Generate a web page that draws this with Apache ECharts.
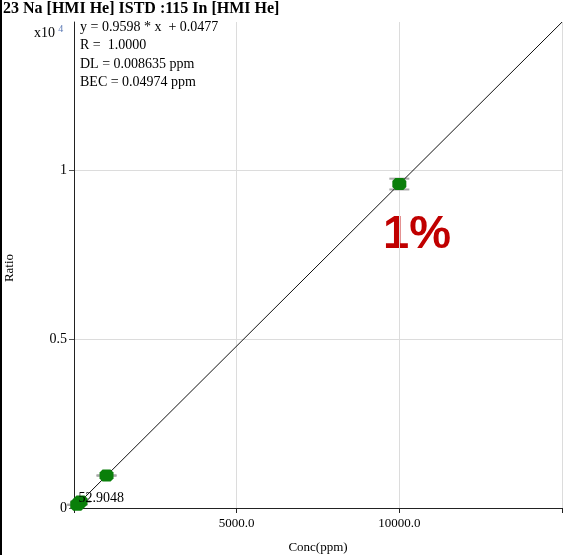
<!DOCTYPE html>
<html>
<head>
<meta charset="utf-8">
<script src="https://cdn.jsdelivr.net/npm/echarts@6/dist/echarts.min.js"></script>
<style>
  html, body { margin: 0; padding: 0; background: #fff; }
  #chart { width: 576px; height: 555px; }
</style>
</head>
<body>
<div id="chart"></div>
<script>
// Calibration standards: concentration (ppm) and ratio (x10^4)
const concPpm = [100, 200, 1000, 10000];
const ratioE4 = [0.0096, 0.0192, 0.0962, 0.9598];
const ratioErr = [0.0006, 0.0006, 0.0008, 0.016];
const pointLabels = ['', '52.9048', '', ''];
const pointLabels2 = ['', '50.0048', '', ''];

// Fit coefficients (raw ratio vs ppm)
const slope = 0.9598;
const intercept = 0.0477;
const fitX = [0, 15000];

const xTicks = [0, 5000, 10000, 15000];
const yTicks = [0, 0.5, 1];

const statsLines = [
  'y = 0.9598 * x  + 0.0477',
  'R =  1.0000',
  'DL = 0.008635 ppm',
  'BEC = 0.04974 ppm'
];
const titleText = '23 Na [HMI He] ISTD :115 In [HMI He]';

const SERIF = '"Liberation Serif", "DejaVu Serif", serif';

const fitData = fitX.map(x => [x, (slope * x + intercept) / 1e4]);
const pts = concPpm.map((c, i) => [c, ratioE4[i], ratioErr[i]]);

const octagon = 'path://M3,0 L11,0 L14,3 L14,9 L11,12 L3,12 L0,9 L0,3 Z';

const chart = echarts.init(document.getElementById('chart'), null, { renderer: 'canvas' });

chart.setOption({
  animation: false,
  backgroundColor: '#ffffff',
  grid: { left: 74, top: 22, right: 14, bottom: 47, containLabel: false, outerBoundsMode: 'none' },
  xAxis: {
    type: 'value',
    min: 0, max: 15000, interval: 5000,
    name: 'Conc(ppm)', nameLocation: 'middle', nameGap: 33,
    nameTextStyle: { fontFamily: SERIF, fontSize: 13, color: '#000' },
    axisLine: { show: true, onZero: false, lineStyle: { color: '#222', width: 1 } },
    axisTick: { show: true, length: 5, lineStyle: { color: '#222' } },
    axisLabel: {
      fontFamily: SERIF, fontSize: 13, color: '#000', margin: 9,
      formatter: v => (v === 0 || v === 15000) ? '' : v.toFixed(1)
    },
    splitLine: { show: true, lineStyle: { color: ['rgba(0,0,0,0)', '#dcdcdc', '#dcdcdc', '#dcdcdc'], width: 1 } }
  },
  yAxis: {
    type: 'value',
    min: 0, max: 1.44, interval: 0.5,
    axisLine: { show: true, onZero: false, lineStyle: { color: '#222', width: 1 } },
    axisTick: { show: true, length: 5, lineStyle: { color: '#555' } },
    axisLabel: {
      fontFamily: SERIF, fontSize: 14, color: '#000', margin: 7,
      showMaxLabel: false,
      formatter: v => (yTicks.indexOf(v) >= 0 ? String(v) : '')
    },
    splitLine: { show: true, lineStyle: { color: ['rgba(0,0,0,0)', '#dcdcdc', '#dcdcdc', 'rgba(0,0,0,0)'], width: 1 } }
  },
  series: [
    {
      name: 'fit',
      type: 'line',
      data: fitData,
      symbol: 'none',
      lineStyle: { color: '#111', width: 1 },
      z: 3
    },
    {
      name: 'errors',
      type: 'custom',
      data: pts,
      z: 2,
      renderItem: (params, api) => {
        const x = api.value(0), y = api.value(1), e = api.value(2);
        const top = api.coord([x, y + e]);
        const bot = api.coord([x, y - e]);
        const hw = 10;
        const style = { stroke: '#a8a8a8', lineWidth: 2 };
        return {
          type: 'group',
          children: [
            { type: 'line', shape: { x1: top[0], y1: top[1], x2: bot[0], y2: bot[1] }, style },
            { type: 'line', shape: { x1: top[0] - hw, y1: top[1], x2: top[0] + hw, y2: top[1] }, style },
            { type: 'line', shape: { x1: bot[0] - hw, y1: bot[1], x2: bot[0] + hw, y2: bot[1] }, style }
          ]
        };
      }
    },
    {
      name: 'standards',
      type: 'scatter',
      data: pts.map((p, i) => ({ value: [p[0], p[1]], label: { show: !!pointLabels[i], formatter: pointLabels[i] } })),
      symbol: octagon,
      symbolSize: [14, 12],
      itemStyle: { color: '#0a7f0a', opacity: 1 },
      label: { position: [5, -4], fontFamily: SERIF, fontSize: 14, color: '#000' },
      z: 4
    },
    {
      name: 'standards-labels',
      type: 'scatter',
      data: pts.map((p, i) => ({ value: [p[0], p[1]], label: { show: !!pointLabels2[i], formatter: pointLabels2[i] } })),
      symbol: 'none',
      symbolSize: [14, 12],
      label: { position: [5, -4], fontFamily: SERIF, fontSize: 14, color: '#000' },
      z: 4
    }
  ],
  graphic: [
    { type: 'line', shape: { x1: 1, y1: 0, x2: 1, y2: 555 }, style: { stroke: '#000', lineWidth: 2 } },
    {
      type: 'text', left: 3, top: 1,
      style: { text: titleText, font: 'bold 16px ' + SERIF, fill: '#000' }
    },
    {
      type: 'text', x: 10, y: 268, rotation: Math.PI / 2,
      style: { text: 'Ratio', font: '13px ' + SERIF, fill: '#000', align: 'center', verticalAlign: 'middle' }
    },
    {
      type: 'text', left: 34, top: 24,
      style: {
        text: '{a|x10} {b|4}',
        rich: {
          a: { fontFamily: SERIF, fontSize: 14, fill: '#000', verticalAlign: 'bottom' },
          b: { fontFamily: SERIF, fontSize: 10, fill: '#5a78b4', padding: [0, 0, 6, 0] }
        }
      }
    },
    ...statsLines.map((t, i) => ({
      type: 'text', left: 80, top: 20 + i * 18.5,
      style: { text: t, font: '14px ' + SERIF, fill: '#000' }
    })),
    {
      type: 'text', left: 383, top: 212,
      style: { text: '1%', font: 'bold 47px "Liberation Sans", Arial, sans-serif', fill: '#c00000' }
    }
  ]
});
</script>
</body>
</html>
